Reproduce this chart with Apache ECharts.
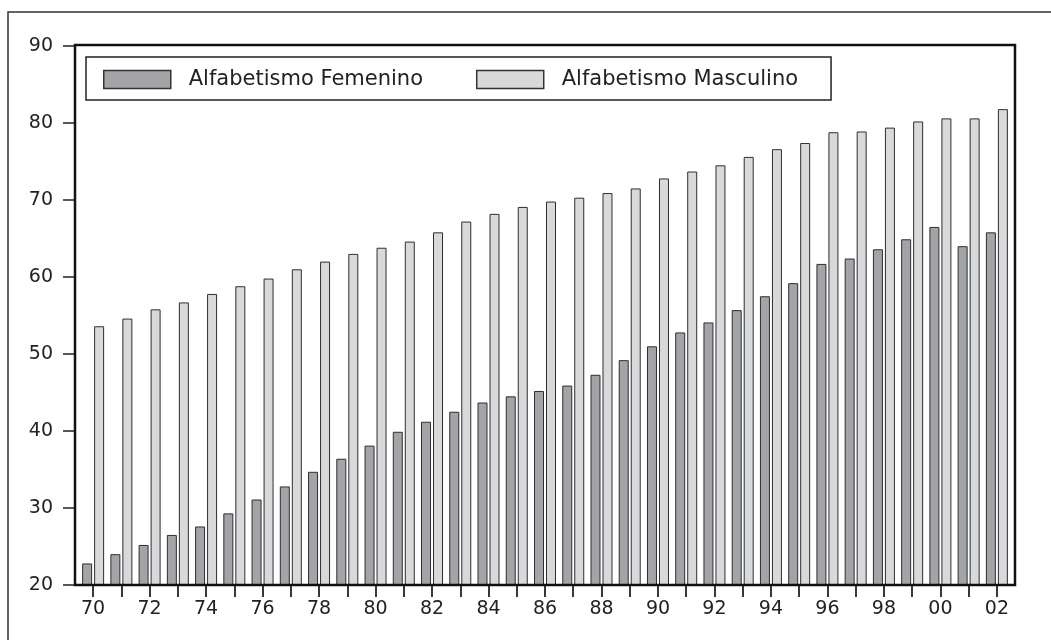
<!DOCTYPE html>
<html>
<head>
<meta charset="utf-8">
<script src="https://cdn.jsdelivr.net/npm/echarts@6/dist/echarts.min.js"></script>
<style>
html,body{margin:0;padding:0;background:#fff;}
#chart{width:1051px;height:640px;}
</style>
</head>
<body>
<div id="chart"></div>
<script>
var years = ['70','71','72','73','74','75','76','77','78','79','80','81','82','83','84','85','86','87','88','89','90','91','92','93','94','95','96','97','98','99','00','01','02'];
var femenino = [22.8,24.0,25.2,26.5,27.6,29.3,31.1,32.8,34.7,36.4,38.1,39.9,41.2,42.5,43.7,44.5,45.2,45.9,47.3,49.2,51.0,52.8,54.1,55.7,57.5,59.2,61.7,62.4,63.6,64.9,66.5,64.0,65.8];
var masculino = [53.6,54.6,55.8,56.7,57.8,58.8,59.8,61.0,62.0,63.0,63.8,64.6,65.8,67.2,68.2,69.1,69.8,70.3,70.9,71.5,72.8,73.7,74.5,75.6,76.6,77.4,78.8,78.9,79.4,80.2,80.6,80.6,81.8];
var yTicks = {min: 20, max: 90, step: 10};

var font = 'DejaVu Sans';
var chart = echarts.init(document.getElementById('chart'), null, {renderer: 'canvas'});
chart.setOption({
  animation: false,
  backgroundColor: '#ffffff',
  textStyle: {fontFamily: font},
  grid: {left: 79, right: 40, top: 46, bottom: 55, containLabel: false},
  legend: {
    left: 86, top: 57,
    orient: 'horizontal',
    itemWidth: 67, itemHeight: 18,
    itemGap: 53,
    padding: [12, 33, 10, 17],
    borderColor: '#222', borderWidth: 1.5,
    icon: 'rect',
    itemStyle: {borderColor: '#333', borderWidth: 1.5},
    textStyle: {fontFamily: font, fontSize: 21, color: '#222', lineHeight: 18, padding: [0, 0, 0, 13]},
    data: ['Alfabetismo Femenino', 'Alfabetismo Masculino']
  },
  xAxis: {
    type: 'category',
    data: years,
    boundaryGap: true,
    axisLine: {show: false},
    axisTick: {show: true, alignWithLabel: true, interval: 0, length: 12, lineStyle: {color: '#222', width: 1.8}},
    axisLabel: {interval: 1, margin: 15, fontFamily: font, fontSize: 19, color: '#222'},
    splitLine: {show: false}
  },
  yAxis: {
    type: 'value',
    min: yTicks.min, max: yTicks.max, interval: yTicks.step,
    offset: 4,
    axisLine: {show: false},
    axisTick: {show: true, inside: false, length: 12, lineStyle: {color: '#222', width: 1.5}},
    axisLabel: {margin: 22, fontFamily: font, fontSize: 19, color: '#222'},
    splitLine: {show: false}
  },
  series: [
    {
      name: 'Alfabetismo Femenino', type: 'bar', data: femenino,
      barWidth: 10, barGap: '20%',
      itemStyle: {color: '#a3a4a8', borderColor: '#2e2e2e', borderWidth: 1}
    },
    {
      name: 'Alfabetismo Masculino', type: 'bar', data: masculino,
      barWidth: 10, barGap: '20%',
      itemStyle: {color: '#d8d9db', borderColor: '#2e2e2e', borderWidth: 1}
    }
  ],
  graphic: [
    {type: 'rect', shape: {x: 8, y: 12, width: 1100, height: 700}, style: {fill: 'none', stroke: '#333', lineWidth: 1.5}, silent: true, z: 0},
    {type: 'rect', shape: {x: 75, y: 45, width: 940, height: 540}, style: {fill: 'none', stroke: '#111', lineWidth: 2.5}, silent: true, z: 100}
  ]
});
</script>
</body>
</html>
